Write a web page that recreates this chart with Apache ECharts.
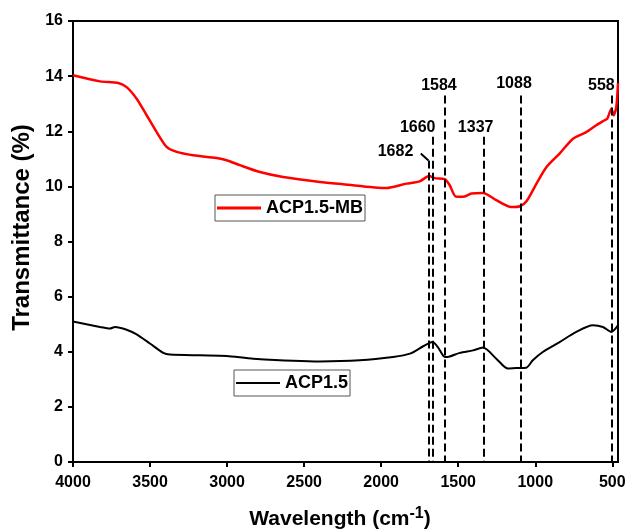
<!DOCTYPE html>
<html>
<head>
<meta charset="utf-8">
<script src="https://cdn.jsdelivr.net/npm/echarts@6/dist/echarts.min.js"></script>
<style>
html, body { margin: 0; background: #fff; }
#chart { width: 627px; height: 530px; }
</style>
</head>
<body>
<div id="chart"></div>
<script>
// FTIR spectra
const wnMB = [4000, 3825, 3706, 3652, 3587, 3522, 3457, 3392, 3327, 3220, 3068, 3003, 2917, 2787, 2636, 2398, 2247, 1966, 1836, 1750, 1689, 1652, 1588, 1555, 1518, 1469, 1414, 1339, 1253, 1156, 1099, 1057, 992, 927, 842, 755, 669, 604, 550, 532, 506, 491, 474, 463]
const tMB = [14.03, 13.81, 13.75, 13.6, 13.18, 12.58, 11.97, 11.43, 11.25, 11.13, 11.03, 10.95, 10.77, 10.52, 10.34, 10.16, 10.08, 9.94, 10.1, 10.18, 10.38, 10.3, 10.26, 10.04, 9.64, 9.62, 9.74, 9.76, 9.5, 9.25, 9.28, 9.46, 10.1, 10.7, 11.19, 11.73, 11.97, 12.22, 12.4, 12.46, 12.82, 12.58, 12.88, 13.75]

const wnACP = [4000, 3825, 3760, 3728, 3652, 3587, 3501, 3414, 3371, 3176, 3003, 2830, 2398, 2139, 1923, 1813, 1727, 1667, 1630, 1587, 1555, 1490, 1404, 1339, 1253, 1178, 1124, 1059, 1016, 951, 842, 734, 626, 561, 507, 463]
const tACP = [5.1, 4.9, 4.84, 4.9, 4.8, 4.63, 4.3, 3.96, 3.9, 3.87, 3.85, 3.75, 3.65, 3.69, 3.81, 3.93, 4.2, 4.35, 4.15, 3.81, 3.83, 3.96, 4.05, 4.15, 3.75, 3.39, 3.41, 3.42, 3.69, 3.99, 4.35, 4.72, 4.96, 4.9, 4.72, 4.96]

// peak markers (dashed lines) and their labels
const peakLabels = ['1682', '1660', '1584', '1337', '1088', '558']
const peakX = [1693, 1663, 1588, 1337, 1097, 503]
const peakTop = [10.94, 11.8, 13.3, 11.8, 13.3, 13.3]
const labelX = [1907, 1763, 1625, 1387, 1138, 571]
const labelY = [11.27, 12.14, 13.67, 12.14, 13.74, 13.67]
const leader = [[1743, 11.19], [1693, 10.94]]  // small bent pointer for 1682

const xTicks = [500, 1000, 1500, 2000, 2500, 3000, 3500, 4000]

const FONT = '"Liberation Sans", Arial, sans-serif'

const myChart = echarts.init(document.getElementById('chart'))

const legendBase = {
  orient: 'horizontal',
  icon: 'rect',
  itemWidth: 44,
  padding: [3, 2, 3, 2],
  borderColor: '#555',
  borderWidth: 1,
  selectedMode: false,
  textStyle: { fontSize: 18, fontWeight: 'bold', color: '#000', fontFamily: FONT, lineHeight: 20 }
}

const dashStyle = { color: '#000', width: 2, type: 'dashed', dashOffset: 0 }
const peakLines = peakX.map((x, i) => [
  { coord: [x, peakTop[i]], lineStyle: dashStyle },
  { coord: [x, 0] }
])
peakLines.push([{ coord: leader[0], lineStyle: { color: '#000', width: 2, type: 'solid' } }, { coord: leader[1] }])

const option = {
  animation: false,
  backgroundColor: '#fff',
  grid: {
    left: 73, right: 9, top: 21, bottom: 68,
    outerBoundsMode: 'none',
    containLabel: false,
    show: true, borderColor: '#000', borderWidth: 2, backgroundColor: 'transparent'
  },
  legend: [
    Object.assign({}, legendBase, { data: ['ACP1.5-MB'], left: 215, top: 195, itemHeight: 3 }),
    Object.assign({}, legendBase, { data: ['ACP1.5'], left: 234, top: 370, itemHeight: 2 })
  ],
  xAxis: {
    type: 'value',
    inverse: true,
    min: 463,
    max: 4000,
    name: 'Wavelength (cm{sup|-1})',
    nameLocation: 'middle',
    nameGap: 44,
    nameTextStyle: {
      fontSize: 21, fontWeight: 'bold', color: '#000', fontFamily: FONT,
      padding: [0, 11, 0, 0],
      rich: { sup: { fontSize: 16, fontWeight: 'bold', color: '#000', fontFamily: FONT, padding: [0, 0, 11, 0] } }
    },
    axisLine: { lineStyle: { color: '#000', width: 2 } },
    axisTick: { show: true, length: 5, lineStyle: { color: '#000', width: 2 }, customValues: xTicks },
    axisLabel: {
      fontSize: 16, fontWeight: 'bold', color: '#000', fontFamily: FONT, margin: 13,
      customValues: xTicks, formatter: v => String(v)
    },
    splitLine: { show: false }
  },
  yAxis: {
    type: 'value',
    min: 0,
    max: 16,
    interval: 2,
    name: 'Transmittance (%)',
    nameLocation: 'middle',
    nameGap: 36,
    nameTextStyle: { fontSize: 24, fontWeight: 'bold', color: '#000', fontFamily: FONT, padding: [0, 0, 0, 28] },
    axisLine: { show: true, lineStyle: { color: '#000', width: 2 } },
    axisTick: { show: true, length: 5, lineStyle: { color: '#000', width: 2 } },
    axisLabel: { fontSize: 16, fontWeight: 'bold', color: '#000', fontFamily: FONT, margin: 10 },
    splitLine: { show: false }
  },
  series: [
    {
      name: 'ACP1.5-MB',
      type: 'line',
      data: wnMB.map((w, i) => [w, tMB[i]]),
      smooth: 0.25,
      symbol: 'none',
      color: '#ff0000',
      lineStyle: { color: '#ff0000', width: 2.5 }
    },
    {
      name: 'ACP1.5',
      type: 'line',
      data: wnACP.map((w, i) => [w, tACP[i]]),
      smooth: 0.25,
      symbol: 'none',
      color: '#000',
      lineStyle: { color: '#000', width: 2 },
      markLine: {
        silent: true,
        symbol: 'none',
        label: { show: false },
        lineStyle: dashStyle,
        data: peakLines
      }
    },
    {
      name: 'peaks',
      type: 'scatter',
      symbol: 'circle',
      symbolSize: 0,
      itemStyle: { color: '#000', opacity: 1 },
      data: labelX.map((x, i) => [x, labelY[i]]),
      label: {
        show: true,
        position: 'inside',
        formatter: p => peakLabels[p.dataIndex],
        fontSize: 16, fontWeight: 'bold', color: '#000', fontFamily: FONT,
        textBorderWidth: 0, opacity: 1
      },
      silent: true
    }
  ]
}
myChart.setOption(option)
</script>
</body>
</html>
